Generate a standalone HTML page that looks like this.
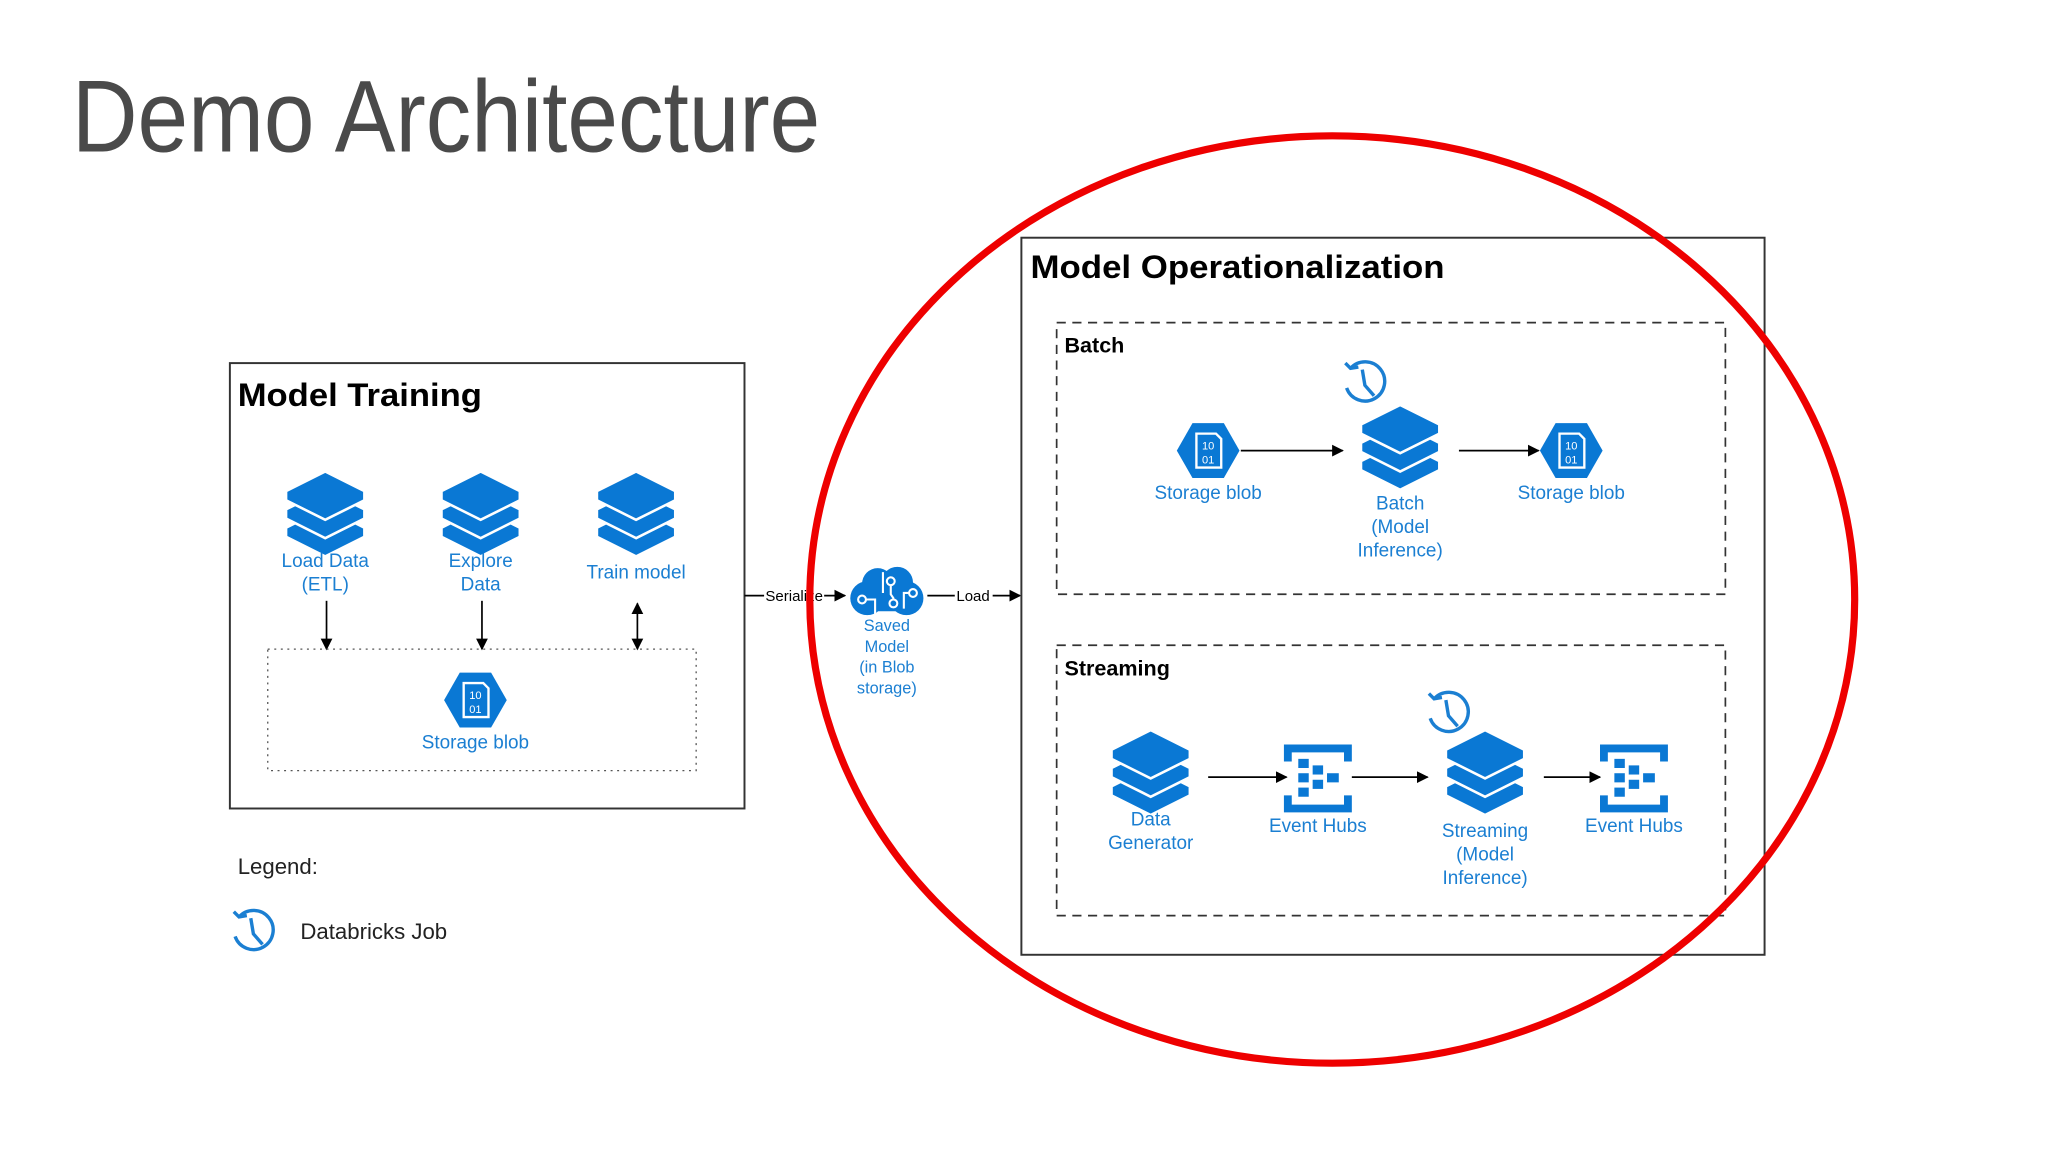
<!DOCTYPE html>
<html><head><meta charset="utf-8"><style>
html,body{margin:0;padding:0;background:#fff;}
svg{display:block;}
text{font-family:"Liberation Sans",sans-serif;}
.lb{fill:#1b7fd2;font-size:14.5px;text-anchor:middle;}
</style></head><body>
<svg width="2048" height="1152" viewBox="0 0 1568 882" xmlns="http://www.w3.org/2000/svg">
<defs>
<g id="layers">
  <polygon points="0,-3 30,12 30,19 0,34 -30,19 -30,12" fill="#0a78d4" stroke="#fff" stroke-width="2"/>
  <polygon points="0,-17 30,-2 30,5 0,20 -30,5 -30,-2" fill="#0a78d4" stroke="#fff" stroke-width="2"/>
  <polygon points="0,-31 30,-16 30,-9 0,6 -30,-9 -30,-16" fill="#0a78d4" stroke="#fff" stroke-width="2"/>
</g>
<g id="blob">
  <polygon points="-24,0 -12,-21 12,-21 24,0 12,21 -12,21" fill="#0a78d4"/>
  <path d="M-9,-13 H6 L10,-9 V13 H-9 Z" fill="none" stroke="#fff" stroke-width="1.8"/>
  <text x="0" y="-1" font-size="8.5" fill="#fff" text-anchor="middle" font-family="Liberation Serif">10</text>
  <text x="0" y="10" font-size="8.5" fill="#fff" text-anchor="middle" font-family="Liberation Serif">01</text>
</g>
<g id="hub" fill="#0a78d4">
  <path d="M-26,-26 H26 V-13 H20 V-20 H-20 V-13 H-26 Z"/>
  <path d="M-26,26 H26 V13 H20 V20 H-20 V13 H-26 Z"/>
  <rect x="-15" y="-15" width="8" height="7"/><rect x="-15" y="-4" width="8" height="7"/><rect x="-15" y="7" width="8" height="7"/>
  <rect x="-4" y="-10" width="8" height="7"/><rect x="-4" y="1" width="8" height="7"/>
  <rect x="7" y="-4" width="9" height="7"/>
</g>
<g id="clock" fill="none" stroke="#1b7fd2" stroke-width="2.6">
  <path d="M-11,-10 A15,15 0 1 1 -14,5"/>
  <path d="M-15,-14 L-11,-10 L-5,-11"/>
  <path d="M-2,-9 L0,3 L7,11"/>
</g>
<marker id="ah" viewBox="0 0 10 10" refX="9" refY="5" markerWidth="9" markerHeight="9" markerUnits="userSpaceOnUse" orient="auto-start-reverse">
  <path d="M0,0 L10,5 L0,10 Z" fill="#000"/>
</marker>
</defs>

<text x="55" y="116" font-size="78" fill="#4a4a4a" textLength="573" lengthAdjust="spacingAndGlyphs">Demo Architecture</text>

<rect x="176" y="278" width="394" height="341" fill="none" stroke="#333" stroke-width="1.5"/>
<text x="182" y="311" font-size="25" font-weight="bold" fill="#000" textLength="187" lengthAdjust="spacingAndGlyphs">Model Training</text>
<use href="#layers" x="249" y="392"/>
<use href="#layers" x="368" y="392"/>
<use href="#layers" x="487" y="392"/>
<text class="lb" x="249" y="434">Load Data</text><text class="lb" x="249" y="452">(ETL)</text>
<text class="lb" x="368" y="434">Explore</text><text class="lb" x="368" y="452">Data</text>
<text class="lb" x="487" y="443">Train model</text>
<line x1="250" y1="460" x2="250" y2="497" stroke="#000" stroke-width="1.3" marker-end="url(#ah)"/>
<line x1="369" y1="460" x2="369" y2="497" stroke="#000" stroke-width="1.3" marker-end="url(#ah)"/>
<line x1="488" y1="462" x2="488" y2="497" stroke="#000" stroke-width="1.3" marker-end="url(#ah)" marker-start="url(#ah)"/>
<rect x="205" y="497" width="328" height="93" fill="none" stroke="#555" stroke-width="1" stroke-dasharray="1.5,3.5"/>
<use href="#blob" x="364" y="536"/>
<text class="lb" x="364" y="573">Storage blob</text>

<line x1="570" y1="456" x2="647" y2="456" stroke="#000" stroke-width="1.3" marker-end="url(#ah)"/>
<rect x="585" y="449" width="46" height="13" fill="#fff"/>
<text x="586" y="460" font-size="11.5" fill="#000">Serialize</text>
<g fill="#0a78d4">
  <circle cx="664" cy="458" r="13"/><circle cx="694" cy="458" r="13"/>
  <circle cx="672" cy="447" r="12"/><circle cx="687" cy="446" r="12"/>
  <rect x="656" y="452" width="46" height="16" rx="7"/>
</g>
<g fill="none" stroke="#fff" stroke-width="1.6">
  <circle cx="660" cy="459" r="3"/><circle cx="682" cy="445" r="3"/><circle cx="684" cy="462" r="3"/><circle cx="699" cy="454" r="3"/>
  <path d="M663,459 H670 V470 M682,448 V455 L684,458 V459 M676,438 V454 M696,454 H692 V466"/>
</g>
<text x="679" y="483" font-size="12.5" fill="#1b7fd2" text-anchor="middle">Saved</text>
<text x="679" y="499" font-size="12.5" fill="#1b7fd2" text-anchor="middle">Model</text>
<text x="679" y="515" font-size="12.5" fill="#1b7fd2" text-anchor="middle">(in Blob</text>
<text x="679" y="531" font-size="12.5" fill="#1b7fd2" text-anchor="middle">storage)</text>
<line x1="710" y1="456" x2="781" y2="456" stroke="#000" stroke-width="1.3" marker-end="url(#ah)"/>
<rect x="731" y="449" width="29" height="13" fill="#fff"/>
<text x="745" y="460" font-size="11.5" fill="#000" text-anchor="middle">Load</text>

<rect x="782" y="182" width="569" height="549" fill="none" stroke="#333" stroke-width="1.5"/>
<text x="789" y="213" font-size="25" font-weight="bold" fill="#000" textLength="317" lengthAdjust="spacingAndGlyphs">Model Operationalization</text>

<rect x="809" y="247" width="512" height="208" fill="none" stroke="#333" stroke-width="1.3" stroke-dasharray="7,5"/>
<text x="815" y="270" font-size="16.5" font-weight="bold" fill="#000">Batch</text>
<use href="#blob" x="925" y="345"/>
<text class="lb" x="925" y="382">Storage blob</text>
<line x1="950" y1="345" x2="1028" y2="345" stroke="#000" stroke-width="1.3" marker-end="url(#ah)"/>
<use href="#clock" x="1045" y="292"/>
<use href="#layers" x="1072" y="341"/>
<text class="lb" x="1072" y="390">Batch</text><text class="lb" x="1072" y="408">(Model</text><text class="lb" x="1072" y="426">Inference)</text>
<line x1="1117" y1="345" x2="1178" y2="345" stroke="#000" stroke-width="1.3" marker-end="url(#ah)"/>
<use href="#blob" x="1203" y="345"/>
<text class="lb" x="1203" y="382">Storage blob</text>

<rect x="809" y="494" width="512" height="207" fill="none" stroke="#333" stroke-width="1.3" stroke-dasharray="7,5"/>
<text x="815" y="517" font-size="16.5" font-weight="bold" fill="#000">Streaming</text>
<use href="#layers" x="881" y="590"/>
<text class="lb" x="881" y="632">Data</text><text class="lb" x="881" y="650">Generator</text>
<line x1="925" y1="595" x2="985" y2="595" stroke="#000" stroke-width="1.3" marker-end="url(#ah)"/>
<use href="#hub" x="1009" y="596"/>
<text class="lb" x="1009" y="637">Event Hubs</text>
<line x1="1035" y1="595" x2="1093" y2="595" stroke="#000" stroke-width="1.3" marker-end="url(#ah)"/>
<use href="#clock" x="1109" y="545"/>
<use href="#layers" x="1137" y="590"/>
<text class="lb" x="1137" y="641">Streaming</text><text class="lb" x="1137" y="659">(Model</text><text class="lb" x="1137" y="677">Inference)</text>
<line x1="1182" y1="595" x2="1225" y2="595" stroke="#000" stroke-width="1.3" marker-end="url(#ah)"/>
<use href="#hub" x="1251" y="596"/>
<text class="lb" x="1251" y="637">Event Hubs</text>

<text x="182" y="669" font-size="17" fill="#222">Legend:</text>
<use href="#clock" x="194" y="712"/>
<text x="230" y="719" font-size="17" fill="#222">Databricks Job</text>

<ellipse cx="1020" cy="459" rx="400" ry="355" fill="none" stroke="#ee0000" stroke-width="5.5"/>
</svg>
</body></html>
